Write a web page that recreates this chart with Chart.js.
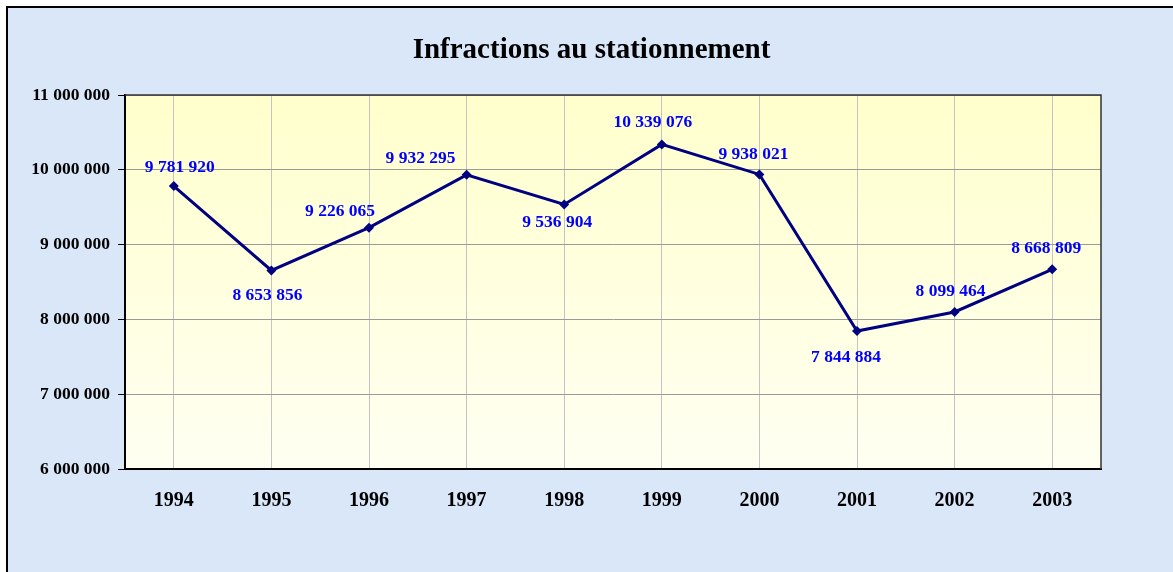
<!DOCTYPE html>
<html>
<head>
<meta charset="utf-8">
<title>Infractions au stationnement</title>
<script src="https://cdn.jsdelivr.net/npm/chart.js@4.4.1/dist/chart.umd.min.js"></script>
<style>
    html, body { margin: 0; padding: 0; background: #fff; width: 1173px; height: 572px; overflow: hidden; }
    #frame {
        position: absolute; left: 6px; top: 6px; width: 1200px; height: 600px;
        border-left: 2px solid #000; border-top: 2px solid #000;
        background: #d9e7f9;
    }
    #chart { position: absolute; left: 0; top: 0; }
</style>
</head>
<body>
<div id="frame"></div>
<canvas id="chart" width="1173" height="572"></canvas>
<script>
/* ── Data ───────────────────────────────────────────────────────────────── */

const TITLE = 'Infractions au stationnement';
const YEARS = ['1994', '1995', '1996', '1997', '1998', '1999', '2000', '2001', '2002', '2003'];
const INFRACTIONS = [9781920, 8653856, 9226065, 9932295, 9536904, 10339076, 9938021, 7844884, 8099464, 8668809];
const Y_MIN  = 6000000;
const Y_MAX  = 11000000;
const Y_STEP = 1000000;

/* ── Style ──────────────────────────────────────────────────────────────── */

const FONT = '"Liberation Serif", "Times New Roman", serif';
const COLORS = {
    line:      '#000080',
    label:     '#0000ff',
    text:      '#000000',
    gridH:     '#9a9a9a',
    gridV:     '#c4c4c4',
    plotTop:   '#ffffcc',
    plotBot:   '#fffff2',
    frame:     '#333333',
};
// Where each value label sits relative to its point (px), as Excel placed them.
const LABEL_OFFSETS = [
    [6, -19], [-4, 25], [-29, -16], [-46, -16], [-7, 18],
    [-9, -22], [-6, -20], [-11, 26], [-4, -20], [-6, -21],
];

/* ── Helpers ────────────────────────────────────────────────────────────── */

// 9781920 -> "9 781 920"
function frNumber(v) {
    return String(Math.round(v)).replace(/\B(?=(\d{3})+(?!\d))/g, ' ');
}

/* ── Plugins ────────────────────────────────────────────────────────────── */

// Title is centred on the whole framed sheet, not on the padded chart box.
const sheetTitle = {
    id: 'sheetTitle',
    afterDraw(chart) {
        const { ctx } = chart;
        ctx.save();
        ctx.font = `bold 29px ${FONT}`;
        ctx.fillStyle = COLORS.text;
        ctx.textAlign = 'center';
        ctx.textBaseline = 'alphabetic';
        ctx.fillText(TITLE, chart.width / 2 + 5, 58);
        ctx.restore();
    },
};

const plotBackground = {
    id: 'plotBackground',
    beforeDraw(chart) {
        const { ctx, chartArea: a } = chart;
        const g = ctx.createLinearGradient(0, a.top, 0, a.bottom);
        g.addColorStop(0, COLORS.plotTop);
        g.addColorStop(1, COLORS.plotBot);
        ctx.save();
        ctx.fillStyle = g;
        ctx.fillRect(a.left, a.top, a.right - a.left, a.bottom - a.top);
        ctx.restore();
    },
    beforeDatasetsDraw(chart) {
        const { ctx, chartArea: a } = chart;
        ctx.save();
        ctx.strokeStyle = COLORS.frame;
        ctx.lineWidth = 1.5;
        ctx.beginPath();
        ctx.moveTo(a.left, a.top);
        ctx.lineTo(a.right, a.top);
        ctx.lineTo(a.right, a.bottom);
        ctx.stroke();
        ctx.restore();
    },
};

const valueLabels = {
    id: 'valueLabels',
    afterDatasetsDraw(chart) {
        const { ctx } = chart;
        const meta = chart.getDatasetMeta(0);
        ctx.save();
        ctx.font = `bold 17.5px ${FONT}`;
        ctx.fillStyle = COLORS.label;
        ctx.textAlign = 'center';
        ctx.textBaseline = 'middle';
        meta.data.forEach((pt, i) => {
            const [dx, dy] = LABEL_OFFSETS[i] || [0, -20];
            ctx.fillText(frNumber(INFRACTIONS[i]), pt.x + dx, pt.y + dy);
        });
        ctx.restore();
    },
};

/* ── Chart ──────────────────────────────────────────────────────────────── */

new Chart(document.getElementById('chart').getContext('2d'), {
    type: 'line',
    data: {
        labels: YEARS,
        datasets: [{
            data: INFRACTIONS,
            borderColor: COLORS.line,
            borderWidth: 3,
            tension: 0,
            pointStyle: 'rectRot',
            pointRadius: 5,
            pointBackgroundColor: COLORS.line,
            pointBorderColor: COLORS.line,
            pointBorderWidth: 0,
        }],
    },
    options: {
        responsive: false,
        animation: false,
        devicePixelRatio: 1,
        layout: { padding: { left: 0, right: 72, top: 95, bottom: 0 } },
        scales: {
            x: {
                offset: true,
                grid: { offset: false, color: COLORS.gridV, drawTicks: false },
                border: { color: '#000', width: 2 },
                ticks: {
                    color: COLORS.text,
                    padding: 20,
                    maxRotation: 0,
                    font: { family: FONT, size: 20, weight: 'bold' },
                },
                afterFit(scale) { scale.height = 103; },
            },
            y: {
                min: Y_MIN,
                max: Y_MAX,
                grid: { color: COLORS.gridH, tickLength: 7, tickColor: '#000' },
                border: { color: '#000', width: 2 },
                ticks: {
                    stepSize: Y_STEP,
                    color: COLORS.text,
                    padding: 8,
                    font: { family: FONT, size: 17.5, weight: 'bold' },
                    callback: v => frNumber(v),
                },
                afterFit(scale) { scale.width = 125; },
            },
        },
        plugins: {
            legend: { display: false },
            tooltip: { enabled: false },
            title: { display: false },
        },
    },
    plugins: [plotBackground, valueLabels, sheetTitle],
});
</script>
</body>
</html>
